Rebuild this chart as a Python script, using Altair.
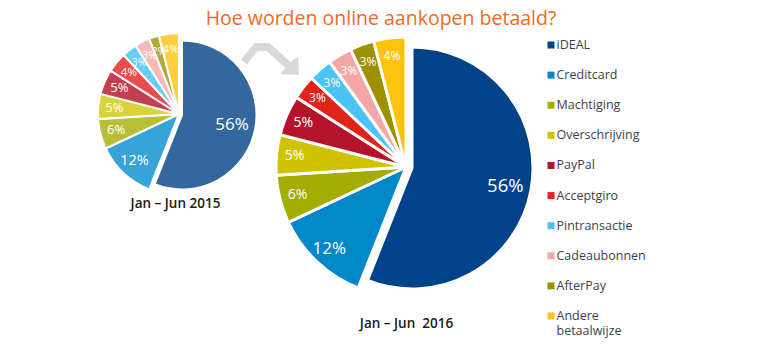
import altair as alt
import pandas as pd

FONT = "Open Sans"

categories = ["iDEAL", "Creditcard", "Machtiging", "Overschrijving", "PayPal",
              "Acceptgiro", "Pintransactie", "Cadeaubonnen", "AfterPay",
              "Andere betaalwijze"]
share_2015 = [56, 12, 6, 5, 5, 4, 3, 3, 2, 4]
share_2016 = [56, 12, 6, 5, 5, 3, 3, 3, 3, 4]
colors_2015 = ["#34679e", "#36a3d9", "#b6bf36", "#dbd33b", "#c43f4f",
               "#e94c4a", "#67cdf7", "#f6b9b9", "#b0aa3d", "#fed040"]
colors_2016 = ["#00438a", "#0088c9", "#a2ad00", "#cfc300", "#b5132b",
               "#e2231a", "#4cc3f5", "#f4a7a8", "#9d9100", "#ffc20e"]
title_text = "Hoe worden online aankopen betaald?"
period_2015 = "Jan \u2013 Jun 2015"
period_2016 = "Jan \u2013 Jun\u00a0 2016"


def frame(shares, colors, size_fn):
    df = pd.DataFrame({"cat": categories, "value": shares, "col": colors})
    df["order"] = range(len(df))
    df["end"] = df["value"].cumsum()
    df["start"] = df["end"] - df["value"]
    df["mid"] = df["start"] + df["value"] / 2
    df["label"] = df["value"].astype(str) + "%"
    df["fs"] = [size_fn(v) for v in df["value"]]
    return df


def fs16(v):
    if v >= 50:
        return 18.5
    if v >= 10:
        return 17
    if v >= 5:
        return 14
    return 12


def fs15(v):
    if v >= 50:
        return 17
    if v >= 10:
        return 14.5
    if v >= 5:
        return 13
    if v >= 4:
        return 11.5
    if v >= 3:
        return 10.5
    return 10


df15 = frame(share_2015, colors_2015, fs15)
df16 = frame(share_2016, colors_2016, fs16)

theta_scale = alt.Scale(domain=[0, 100])


def pie(df, c_rest, c_main, r_rest, r_main, sw, lr_rest, lr_main):
    base = alt.Chart(df)
    th = alt.Theta("start:Q", scale=theta_scale, stack=False)
    th2 = alt.Theta2("end:Q")
    col = alt.Color("col:N", scale=None)
    thm = alt.Theta("mid:Q", scale=theta_scale, stack=False)
    rest = base.transform_filter("datum.order > 0").mark_arc(
        outerRadius=r_rest, stroke="white", strokeWidth=sw
    ).encode(x=alt.value(c_rest[0]), y=alt.value(c_rest[1]), theta=th, theta2=th2, color=col)
    main = base.transform_filter("datum.order == 0").mark_arc(
        outerRadius=r_main, stroke="white", strokeWidth=sw
    ).encode(x=alt.value(c_main[0]), y=alt.value(c_main[1]), theta=th, theta2=th2, color=col)
    lab_rest = base.transform_filter("datum.order > 0").mark_text(
        radius=lr_rest, color="white", font=FONT,
        align="center", baseline="middle"
    ).encode(x=alt.value(c_rest[0]), y=alt.value(c_rest[1]), theta=thm,
             text="label:N", size=alt.Size("fs:Q", scale=None))
    lab_main = base.transform_filter("datum.order == 0").mark_text(
        radius=lr_main, color="white", font=FONT,
        align="center", baseline="middle"
    ).encode(x=alt.value(c_main[0]), y=alt.value(c_main[1]), theta=thm,
             text="label:N", size=alt.Size("fs:Q", scale=None))
    return [rest, main, lab_rest, lab_main]


layers = []
layers += pie(df15, (171, 106), (174, 107), 81, 74.5, 2, 65, 51)
layers += pie(df16, (398, 159), (404, 160), 130, 121, 3, 112, 95)

# legend
leg_y = alt.Y("cat:N", sort=categories,
              scale=alt.Scale(type="point", range=[37, 308], padding=0), axis=None)
leg_sq = alt.Chart(df16).mark_square(size=49, opacity=1).encode(
    x=alt.value(543), y=leg_y, color=alt.Color("col:N", scale=None))
leg_tx = alt.Chart(df16).mark_text(
    align="left", baseline="top", dy=-6, lineBreak=" ", lineHeight=15,
    font=FONT, fontSize=12.5, color="#3a3f4a"
).encode(x=alt.value(548.5), y=leg_y, text="cat:N")
layers += [leg_sq, leg_tx]

# arrow (decoration)
pts = [(240.9, 59.5), (254.5, 43), (269.5, 43), (290.7, 62), (298, 56),
       (299, 75), (280, 74), (285.3, 68), (266.5, 51), (257.5, 51), (247.1, 64.5)]
cx0, cy0, unit = 270, 58, 30.0
path = "M" + " L".join(f"{(x - cx0) / unit:.3f},{(y - cy0) / unit:.3f}" for x, y in pts) + " Z"
arrow = alt.Chart(pd.DataFrame({"a": [0]})).mark_point(
    shape=path, size=3600, filled=True, color="#d9d9d9", opacity=1, strokeWidth=0
).encode(x=alt.value(cx0 - 8), y=alt.value(cy0 - 8))
layers.append(arrow)

# titles
title = alt.Chart(pd.DataFrame({"t": [title_text]})).mark_text(
    font=FONT, fontSize=19.5, color="#f26a21", align="center", baseline="middle"
).encode(x=alt.value(373), y=alt.value(11), text="t:N")
sub15 = alt.Chart(pd.DataFrame({"t": [period_2015]})).mark_text(
    font=FONT, fontSize=13.5, fontWeight=600, color="#1a1a1a", align="center", baseline="middle"
).encode(x=alt.value(167.5), y=alt.value(196), text="t:N")
sub16 = alt.Chart(pd.DataFrame({"t": [period_2016]})).mark_text(
    font=FONT, fontSize=13.5, fontWeight=600, color="#1a1a1a", align="center", baseline="middle"
).encode(x=alt.value(398.5), y=alt.value(316), text="t:N")
layers += [title, sub15, sub16]

chart = alt.layer(*layers).properties(
    width=756, height=346, autosize=alt.AutoSizeParams(type="none"), padding=0
).configure_view(stroke=None)

chart.save("out.html", embed_options={"renderer": "svg", "actions": False})
